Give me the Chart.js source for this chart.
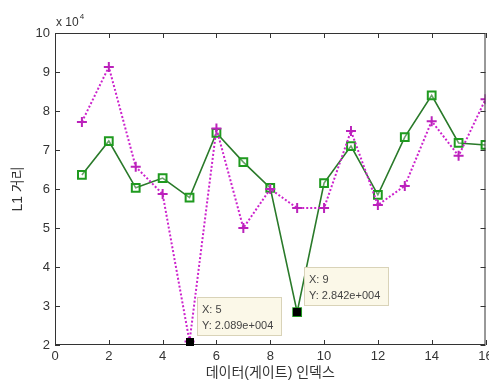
<!DOCTYPE html>
<html>
<head>
<meta charset="utf-8">
<script src="https://cdn.jsdelivr.net/npm/chart.js@4.4.0/dist/chart.umd.min.js"></script>
<style>
  html, body { margin: 0; padding: 0; background: #fff; overflow: hidden; }
  /* a little wider than the window: the last x label is cut at the edge as in the original */
  #wrap { width: 493px; height: 386px; }
</style>
</head>
<body>
<div id="wrap"><canvas id="chart"></canvas></div>
<script>
// data (y values in units of 10^4)
const xIndex = [1, 2, 3, 4, 5, 6, 7, 8, 9, 10, 11, 12, 13, 14, 15, 16];
const greenSeries = [6.36, 7.23, 6.03, 6.28, 5.78, 7.44, 6.69, 6.03, 2.842, 6.15, 7.1, 5.85, 7.33, 8.4, 7.18, 7.13];
const magentaSeries = [7.72, 9.13, 6.57, 5.87, 2.089, 7.55, 5.0, 6.0, 5.51, 5.51, 7.49, 5.59, 6.08, 7.74, 6.85, 8.3];
const xTicks = [0, 2, 4, 6, 8, 10, 12, 14, 16];
const yTicks = [2, 3, 4, 5, 6, 7, 8, 9, 10];
// data tips: [series, index]
const dataTips = [['magenta', 4], ['green', 8]];

const FONT = 'Arial, "Liberation Sans", "Noto Sans CJK KR", sans-serif';

const toPoints = arr => arr.map((v, i) => ({ x: xIndex[i], y: v }));

// MATLAB style frame with inward ticks, exponent label, data tips
const matlabPlugin = {
  id: 'matlabFrame',
  afterDatasetsDraw(chart) {
    const ctx = chart.ctx;
    const a = chart.chartArea;
    const xs = chart.scales.x, ys = chart.scales.y;
    ctx.save();
    ctx.strokeStyle = '#333';
    ctx.lineWidth = 1;
    ctx.strokeRect(a.left + 0.5, a.top + 0.5, a.right - a.left - 1, a.bottom - a.top - 1);
    ctx.beginPath();
    xTicks.forEach(t => {
      const px = Math.round(xs.getPixelForValue(t)) + 0.5;
      ctx.moveTo(px, a.bottom); ctx.lineTo(px, a.bottom - 5);
      ctx.moveTo(px, a.top); ctx.lineTo(px, a.top + 5);
    });
    yTicks.forEach(t => {
      const py = Math.round(ys.getPixelForValue(t)) + 0.5;
      ctx.moveTo(a.left, py); ctx.lineTo(a.left + 5, py);
      ctx.moveTo(a.right, py); ctx.lineTo(a.right - 5, py);
    });
    ctx.stroke();

    // x tick labels (drawn here so the last label may run off the edge)
    ctx.fillStyle = '#333';
    ctx.font = '13px ' + FONT;
    ctx.textAlign = 'center';
    ctx.textBaseline = 'top';
    xTicks.forEach(t => {
      ctx.fillText(String(t), xs.getPixelForValue(t), a.bottom + 5);
    });

    // exponent
    ctx.font = '12px ' + FONT;
    ctx.textBaseline = 'alphabetic';
    ctx.textAlign = 'left';
    ctx.fillText('x 10', a.left + 1, a.top - 7);
    const w = ctx.measureText('x 10').width;
    ctx.font = '8px ' + FONT;
    ctx.fillText('4', a.left + 2 + w, a.top - 14);

    // data tips
    dataTips.forEach(([name, i]) => {
      const series = name === 'green' ? greenSeries : magentaSeries;
      const px = xs.getPixelForValue(xIndex[i]);
      const py = ys.getPixelForValue(series[i]);
      ctx.fillStyle = '#000';
      ctx.fillRect(Math.round(px) - 4, Math.round(py) - 4, 8, 8);
      const bx = Math.round(px) + 7, by = Math.round(py) - 45;
      ctx.fillStyle = '#fbf8e8';
      ctx.strokeStyle = '#d9d3b8';
      ctx.fillRect(bx, by, 85, 39);
      ctx.strokeRect(bx + 0.5, by + 0.5, 84, 38);
      ctx.fillStyle = '#444';
      ctx.font = '11px ' + FONT;
      ctx.textAlign = 'left';
      ctx.fillText('X: ' + xIndex[i], bx + 5, by + 16);
      const yv = (series[i] * 1e4).toExponential(3).replace(/e\+(\d+)/, (m, d) => 'e+' + d.padStart(3, '0'));
      ctx.fillText('Y: ' + yv, bx + 5, by + 32);
    });
    ctx.restore();
  }
};

new Chart(document.getElementById('chart'), {
  type: 'line',
  data: {
    datasets: [
      {
        label: 'magenta',
        data: toPoints(magentaSeries),
        borderColor: '#cc22cc',
        borderWidth: 2,
        borderDash: [2, 2],
        pointStyle: 'cross',
        pointRadius: 5,
        pointBorderWidth: 2,
        pointBorderColor: '#bb22bb',
        tension: 0
      },
      {
        label: 'green',
        data: toPoints(greenSeries),
        borderColor: '#2a7a2a',
        borderWidth: 1.6,
        pointStyle: 'rect',
        pointRadius: 5.5,
        pointBorderWidth: 2,
        pointBorderColor: '#1f9a1f',
        pointBackgroundColor: 'rgba(255,255,255,0.3)',
        tension: 0
      }
    ]
  },
  options: {
    responsive: true,
    maintainAspectRatio: false,
    animation: false,
    layout: { padding: { top: 33, right: 0, left: 0, bottom: 0 } },
    plugins: {
      legend: { display: false },
      tooltip: { enabled: false }
    },
    scales: {
      x: {
        type: 'linear',
        min: 0,
        max: 16,
        afterBuildTicks: s => { s.ticks = xTicks.map(v => ({ value: v })); },
        afterFit: s => { s.height = 41; },
        grid: { display: false, drawTicks: false },
        border: { display: false },
        ticks: { display: false },
        title: { display: true, text: '데이터(게이트) 인덱스', color: '#333', font: { size: 14, family: FONT }, padding: { top: 0, bottom: 4 } }
      },
      y: {
        min: 2,
        max: 10,
        afterBuildTicks: s => { s.ticks = yTicks.map(v => ({ value: v })); },
        afterFit: s => { s.width = 55; },
        grid: { display: false, drawTicks: false },
        border: { display: false },
        ticks: { color: '#333', font: { size: 13, family: FONT }, padding: 5 },
        title: { display: true, text: 'L1 거리', color: '#333', font: { size: 14, family: FONT }, padding: { top: 10, bottom: 0 } }
      }
    }
  },
  plugins: [matlabPlugin]
});
</script>
</body>
</html>
